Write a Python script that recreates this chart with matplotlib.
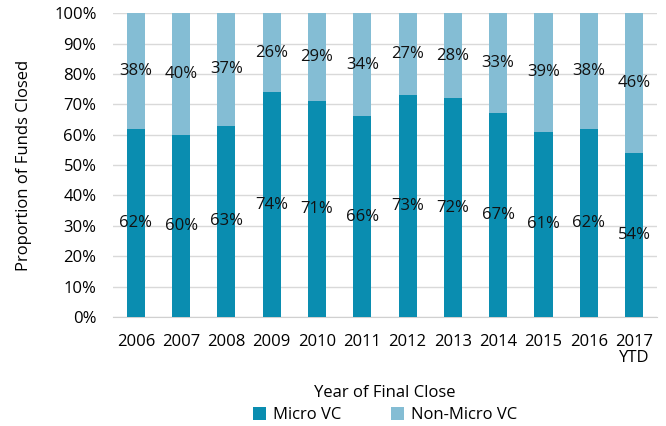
import matplotlib
matplotlib.use("Agg")
import matplotlib.pyplot as plt
import numpy as np

years = ["2006", "2007", "2008", "2009", "2010", "2011", "2012", "2013", "2014", "2015", "2016", "2017\nYTD"]
micro = [62, 60, 63, 74, 71, 66, 73, 72, 67, 61, 62, 54]
non_micro = [38, 40, 37, 26, 29, 34, 27, 28, 33, 39, 38, 46]

plt.rcParams['font.family'] = ['Open Sans', 'DejaVu Sans']
fs = 12
fig = plt.figure(figsize=(6.66, 4.26), dpi=100)
ax = fig.add_axes([0.170, 0.256, 0.816, 0.713])

x = np.arange(len(years))
c1 = "#0A8DB0"
c2 = "#84BDD4"
b1 = ax.bar(x, micro, width=0.4, color=c1, label="Micro VC", zorder=3)
b2 = ax.bar(x, non_micro, width=0.4, bottom=micro, color=c2, label="Non-Micro VC", zorder=3)

for i in range(len(x)):
    ax.text(x[i], micro[i] / 2, f"{micro[i]}%", ha="center", va="center", fontsize=fs, color="#111111", zorder=4)
    ax.text(x[i], micro[i] + non_micro[i] / 2, f"{non_micro[i]}%", ha="center", va="center", fontsize=fs, color="#111111", zorder=4)

ax.set_ylim(0, 100)
ax.set_xlim(-0.5, len(years) - 0.5)
ax.set_yticks(np.arange(0, 101, 10))
ax.set_yticklabels([f"{v}%" for v in range(0, 101, 10)], fontsize=fs)
ax.set_xticks(x)
ax.set_xticklabels(years, fontsize=fs, linespacing=1.0)
ax.tick_params(axis="y", length=0, pad=12)
ax.tick_params(axis="x", length=0, pad=12)
ax.grid(axis="y", color="#D9D9D9", linewidth=1, zorder=0)
for s in ["top", "right", "left"]:
    ax.spines[s].set_visible(False)
ax.spines["bottom"].set_color("#D0D0D0")
ax.set_ylabel("Proportion of Funds Closed", fontsize=fs, labelpad=16)
ax.set_xlabel("Year of Final Close", fontsize=fs, labelpad=14)

fig.legend(handles=[b1, b2], loc="lower center", bbox_to_anchor=(0.578, -0.028), ncol=2,
           frameon=False, fontsize=fs, handlelength=0.8, handleheight=0.8, columnspacing=3.0, handletextpad=0.4)

fig.savefig("out.png", dpi=100)
